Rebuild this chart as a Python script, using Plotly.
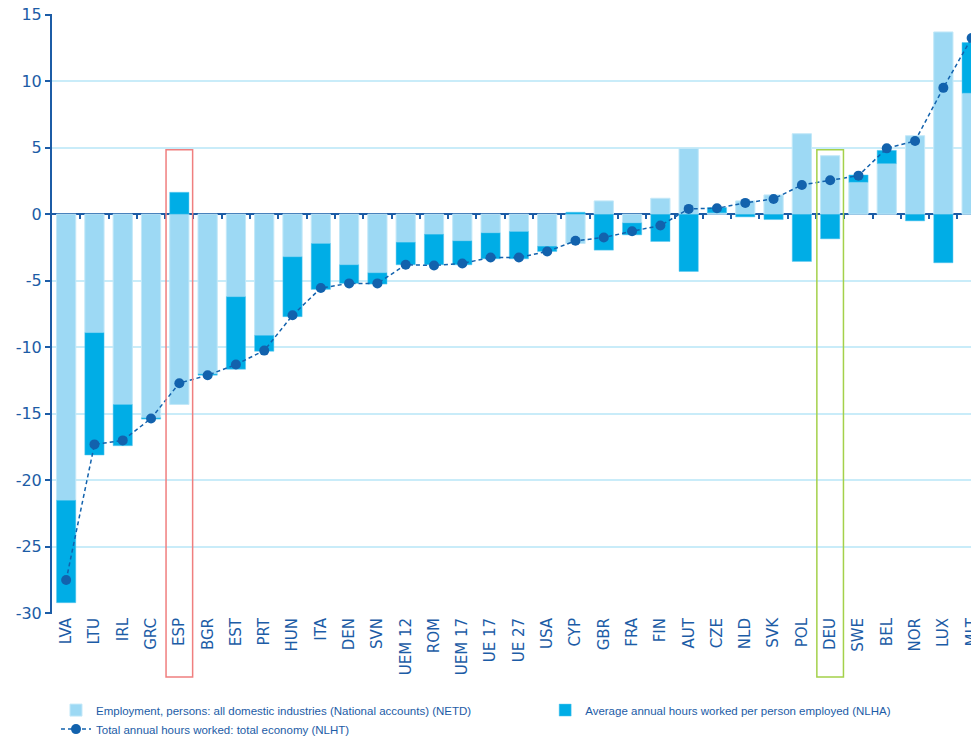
import plotly.graph_objects as go

categories = ["LVA", "LTU", "IRL", "GRC", "ESP", "BGR", "EST", "PRT", "HUN", "ITA",
              "DEN", "SVN", "UEM 12", "ROM", "UEM 17", "UE 17", "UE 27", "USA", "CYP",
              "GBR", "FRA", "FIN", "AUT", "CZE", "NLD", "SVK", "POL", "DEU", "SWE",
              "BEL", "NOR", "LUX", "MLT"]

netd = [-21.5, -8.9, -14.3, -15.3, -14.3, -12.0, -6.2, -9.1, -3.2, -2.2,
        -3.8, -4.4, -2.1, -1.5, -2.0, -1.4, -1.3, -2.4, -2.2,
        1.0, -0.65, 1.2, 4.95, 0.1, 1.0, 1.45, 6.05, 4.4, 2.4,
        3.8, 5.9, 13.7, 9.1]

nlha = [-7.7, -9.2, -3.1, -0.1, 1.65, -0.1, -5.45, -1.2, -4.5, -3.45,
        -1.4, -0.85, -1.7, -2.3, -1.8, -1.95, -2.05, -0.4, 0.15,
        -2.7, -0.9, -2.05, -4.3, 0.4, -0.2, -0.4, -3.55, -1.85, 0.55,
        1.0, -0.5, -3.65, 3.8]

nlht = [-27.5, -17.3, -17.0, -15.35, -12.7, -12.1, -11.3, -10.25, -7.6, -5.55,
        -5.2, -5.2, -3.8, -3.85, -3.7, -3.25, -3.25, -2.8, -2.0,
        -1.75, -1.28, -0.85, 0.4, 0.45, 0.85, 1.15, 2.2, 2.55, 2.9,
        4.95, 5.5, 9.5, 13.25]

y_ticks = [15, 10, 5, 0, -5, -10, -15, -20, -25, -30]
y_ticklabels = ["15", "10", "5", "0", "-5", "-10", "-15", "-20", "-25", "-30"]

highlights = [("ESP", "#f07f7f"), ("DEU", "#a4d14a")]
highlight_top = 4.85

AXIS_BLUE = "#1c5ca6"
LIGHT = "#9dd9f4"
DARK = "#00ade6"
LINE = "#1262ad"
GRID = "#c9ecf9"

idx = list(range(len(categories)))
y_min, y_max = -30.05, 15.05

fig = go.Figure()
fig.add_trace(go.Bar(
    x=idx, y=netd, name="Employment, persons: all domestic industries (National accounts) (NETD)",
    marker=dict(color=LIGHT, line=dict(color="#c3e8f8", width=1)), width=0.68,
    legend="legend", legendrank=1))
fig.add_trace(go.Bar(
    x=idx, y=nlha, name="Average annual hours worked per person employed (NLHA)",
    marker=dict(color=DARK, line=dict(color="#5cc6ee", width=0.5)), width=0.68,
    legend="legend2"))
fig.add_trace(go.Scatter(
    x=idx, y=nlht, mode="lines+markers", name="Total annual hours worked: total economy (NLHT)",
    line=dict(color=LINE, width=1.5, dash="4px,3px"),
    marker=dict(color=LINE, size=10),
    legend="legend", legendrank=2))
# invisible helper trace for the tick axis on the zero line
fig.add_trace(go.Scatter(x=[], y=[], xaxis="x2", showlegend=False, hoverinfo="skip"))

x_range = [-0.5, 32.26]

shapes = []
for cat, col in highlights:
    i = categories.index(cat)
    shapes.append(dict(type="rect", xref="x", yref="paper",
                       x0=i - 0.47, x1=i + 0.47,
                       y0=-0.105, y1=(highlight_top - y_min) / (y_max - y_min),
                       line=dict(color=col, width=1.5), layer="above"))

legend_font = dict(size=11.5, color=AXIS_BLUE, family="Liberation Sans Narrow, Liberation Sans")

fig.update_layout(
    template="none",
    width=971, height=729,
    margin=dict(l=44, r=0, t=6, b=123, autoexpand=False),
    paper_bgcolor="white", plot_bgcolor="white",
    barmode="relative",
    font=dict(family="DejaVu Sans", color=AXIS_BLUE),
    xaxis=dict(range=x_range, tickmode="array", tickvals=idx, ticktext=categories,
               tickangle=-90, ticks="", showgrid=False, zeroline=False, showline=False,
               tickfont=dict(size=15, color=AXIS_BLUE, family="DejaVu Sans"),
               ticklabeloverflow="allow", automargin=False),
    xaxis2=dict(range=x_range, overlaying="x", anchor="free",
                position=(0 - y_min) / (y_max - y_min), side="bottom",
                tickmode="array", tickvals=[i + 0.5 for i in idx[:-1]],
                ticks="outside", ticklen=4, tickwidth=1.5, tickcolor=AXIS_BLUE,
                showticklabels=False, showgrid=False, zeroline=False, showline=False),
    yaxis=dict(range=[y_min, y_max], tickmode="array", tickvals=y_ticks, ticktext=y_ticklabels,
               showgrid=True, gridcolor=GRID, gridwidth=2,
               zeroline=True, zerolinecolor=AXIS_BLUE, zerolinewidth=2,
               showline=True, linecolor=AXIS_BLUE, linewidth=2,
               ticks="outside", ticklen=5, tickwidth=1.5, tickcolor=AXIS_BLUE,
               tickfont=dict(size=16, color=AXIS_BLUE, family="DejaVu Sans"),
               ticklabeloverflow="allow", automargin=False),
    legend=dict(orientation="v", x=0.0043, xanchor="left", y=-0.136, yanchor="top",
                font=legend_font, bgcolor="rgba(0,0,0,0)", tracegroupgap=0,
                traceorder="normal"),
    legend2=dict(orientation="v", x=0.532, xanchor="left", y=-0.136, yanchor="top",
                 font=legend_font, bgcolor="rgba(0,0,0,0)"),
    showlegend=True,
    shapes=shapes,
)

fig.write_html("out.html")
